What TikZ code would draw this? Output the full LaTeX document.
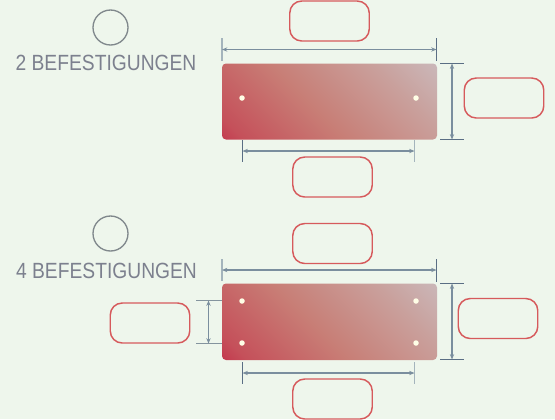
\documentclass[tikz,border=0pt]{standalone}
\usepackage{fontspec}
\setmainfont{Liberation Sans}
\newfontfamily\capfont[FakeStretch=0.875]{Liberation Sans}
\usetikzlibrary{arrows.meta}
\definecolor{bgc}{HTML}{EEF6EC}
\definecolor{boxc}{HTML}{D65A5C}
\definecolor{dimc}{HTML}{7A8E9E}
\definecolor{tickd}{HTML}{5A6E84}
\definecolor{tickl}{HTML}{A4B4BC}
\definecolor{tickm}{HTML}{84949E}
\definecolor{txtc}{HTML}{7C808E}
\definecolor{ringc}{HTML}{80888C}
\definecolor{g0}{HTML}{C0123A}
\definecolor{g1}{HTML}{C5505A}
\definecolor{g2}{HTML}{C87E76}
\definecolor{g3}{HTML}{C9A09C}
\definecolor{g4}{HTML}{CBC2C6}
\pgfdeclareverticalshading{platefade}{100bp}{color(0bp)=(g4); color(31bp)=(g4); color(41bp)=(g3); color(52bp)=(g2); color(63bp)=(g1); color(70bp)=(g0); color(100bp)=(g0)}
\newcommand{\pxu}{*0.75pt}
\tikzset{
  valbox/.style={draw=boxc,line width=1.1pt,rounded corners=9pt,minimum width=79.5\pxu,minimum height=40\pxu,inner sep=0pt},
  ring/.style={circle,draw=ringc,line width=1pt,minimum size=35\pxu,inner sep=0pt},
  captext/.style={text=txtc,font=\capfont\fontsize{16.5}{16.5}\selectfont,inner sep=0pt},
  hole/.style={circle,fill=white!90!yellow,minimum size=5.5\pxu,inner sep=0pt},
  dimline/.style={draw=dimc,line width=.85pt,{Stealth[length=4pt,width=3.2pt]}-{Stealth[length=4pt,width=3.2pt]}},
  tickdark/.style={draw=tickd,line width=.8pt},
  ticklight/.style={draw=tickl,line width=.8pt},
  tickmid/.style={draw=tickm,line width=.8pt},
  platebox/.style={minimum width=215\pxu,inner sep=0pt,draw=none},
}
\begin{document}
\begin{tikzpicture}[x=0.75pt,y=-0.75pt]
\useasboundingbox (0,0) rectangle (555,419);
\fill[bgc] (0,0) rectangle (555,419);
% plates
\begin{scope}
  \clip[rounded corners=3pt] (222,63.5) rectangle (437,139.5);
  \shade[shading=platefade,shading angle=135] (329.5,-60) ++(-165,0) rectangle ++(330,330);
\end{scope}
\begin{scope}
  \clip[rounded corners=3pt] (222,283.5) rectangle (437,360);
  \shade[shading=platefade,shading angle=135] (329.5,157) ++(-165,0) rectangle ++(330,330);
\end{scope}
\node[platebox,minimum height=76\pxu] (plateA) at (329.5,101.5) {};
\node[platebox,minimum height=76.5\pxu] (plateB) at (329.5,321.75) {};
% holes
\node[hole] (a1) at (242,98) {};
\node[hole] (a2) at (416,98) {};
\node[hole] (b1) at (242,301) {};
\node[hole] (b2) at (416,301) {};
\node[hole] (b3) at (242,343) {};
\node[hole] (b4) at (416,343) {};
% labels
\node[ring] (r1) at (110.5,27.5) {};
\node[ring] (r2) at (110.5,233.5) {};
\node[captext] (t1) at (106,62.5) {2 BEFESTIGUNGEN};
\node[captext] (t2) at (106.5,271) {4 BEFESTIGUNGEN};
% value boxes
\node[valbox] (v1) at (329.5,21) {};
\node[valbox] (v2) at (332.5,177) {};
\node[valbox] (v3) at (504,98) {};
\node[valbox] (v4) at (332.5,243.5) {};
\node[valbox] (v5) at (332.5,399) {};
\node[valbox] (v6) at (498,318.5) {};
\node[valbox] (v7) at (150,323) {};
% dimension anchors: upper plate
\coordinate (a-wl) at (222,49.5); \coordinate (a-wr) at (436.5,49.5);
\draw[ticklight] (222,38) -- (a-wl) -- (222,61);
\draw[tickdark] (436.5,38) -- (a-wr) -- (436.5,61);
\draw[dimline] (a-wl) -- (a-wr);
\coordinate (a-ht) at (452,63.5); \coordinate (a-hb) at (452,139.5);
\draw[tickdark] (440,63.5) -- (a-ht) -- (464,63.5);
\draw[tickdark] (440,139.5) -- (a-hb) -- (464,139.5);
\draw[dimline] (a-ht) -- (a-hb);
\coordinate (a-sl) at (242.5,151); \coordinate (a-sr) at (414.5,151);
\draw[tickdark] (242.5,140) -- (a-sl) -- (242.5,162);
\draw[ticklight] (414.5,140) -- (a-sr) -- (414.5,162);
\draw[dimline] (a-sl) -- (a-sr);
% dimension anchors: lower plate
\coordinate (b-wl) at (222,270); \coordinate (b-wr) at (436.5,270);
\draw[ticklight] (222,259) -- (b-wl) -- (222,281);
\draw[tickdark] (436.5,259) -- (b-wr) -- (436.5,282);
\draw[dimline] (b-wl) -- (b-wr);
\coordinate (b-ht) at (452,283.5); \coordinate (b-hb) at (452,359.5);
\draw[tickdark] (440,283.5) -- (b-ht) -- (464,283.5);
\draw[tickdark] (440,359.5) -- (b-hb) -- (464,359.5);
\draw[dimline] (b-ht) -- (b-hb);
\coordinate (b-sl) at (242.5,373); \coordinate (b-sr) at (414.5,373);
\draw[tickdark] (242.5,362) -- (b-sl) -- (242.5,384);
\draw[ticklight] (414.5,362) -- (b-sr) -- (414.5,384);
\draw[dimline] (b-sl) -- (b-sr);
\coordinate (b-lt) at (208.5,300.5); \coordinate (b-lb) at (208.5,343.5);
\draw[tickmid] (196,300.5) -- (b-lt) -- (222,300.5);
\draw[tickmid] (196,343.5) -- (b-lb) -- (222,343.5);
\draw[dimline] (b-lt) -- (b-lb);
\end{tikzpicture}
\end{document}
